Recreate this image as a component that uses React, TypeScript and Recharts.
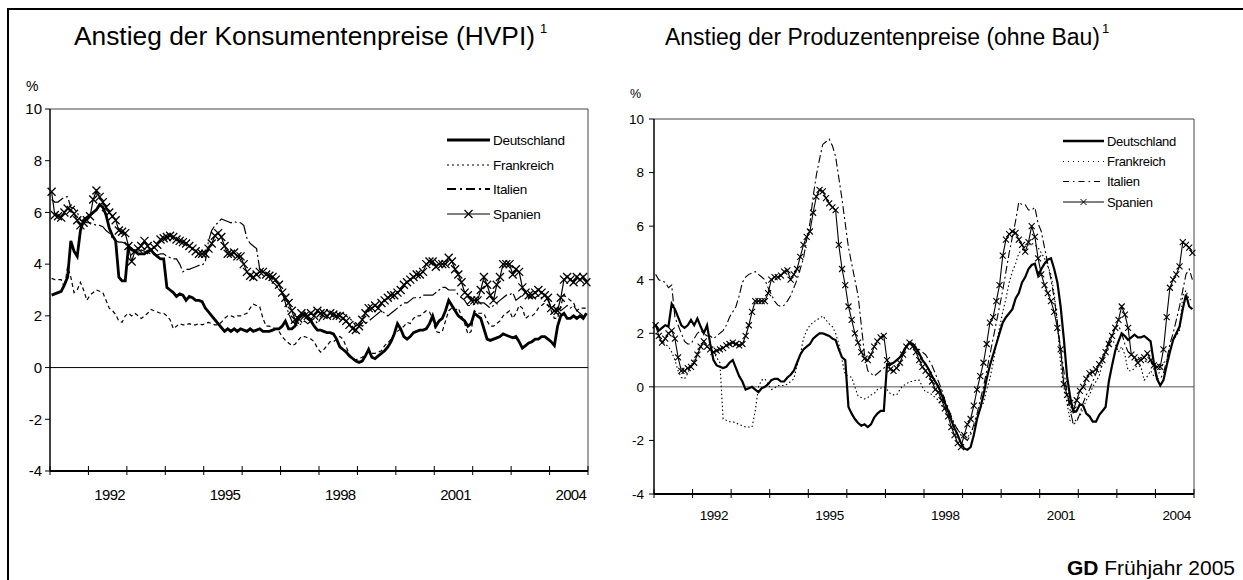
import React from 'react'
import { LineChart, Line, XAxis, YAxis, ReferenceLine } from 'recharts'

// Monatswerte Jan 1991 bis Dez 2004, Veränderung gegenüber Vorjahresmonat in %
const START_YEAR = 1991
const yearLabels = ['1992', '1995', '1998', '2001', '2004']
const yTicks = [-4, -2, 0, 2, 4, 6, 8, 10]
const countries = ['Deutschland', 'Frankreich', 'Italien', 'Spanien']

// Konsumentenpreise (HVPI)
const hvpiDeutschland = [
  2.8, 2.85, 2.9, 2.95, 3.2, 3.5, 4.9, 4.5, 4.3, 5.3, 5.7, 5.8,
  5.9, 6.0, 6.1, 6.3, 6.2, 5.9, 5.4, 5.1, 4.9, 3.5, 3.35, 3.35,
  4.7, 4.55, 4.5, 4.4, 4.4, 4.4, 4.5, 4.55, 4.4, 4.3, 4.2, 4.2,
  3.1, 3.0, 2.9, 2.75, 2.85, 2.8, 2.6, 2.75, 2.7, 2.6, 2.6, 2.55,
  2.3, 2.15, 2.0, 1.85, 1.7, 1.55, 1.4, 1.5, 1.4, 1.5, 1.4, 1.5,
  1.45, 1.4, 1.5, 1.4, 1.45, 1.5, 1.4, 1.4, 1.4, 1.45, 1.5, 1.5,
  1.6, 1.8, 1.5, 1.5, 1.6, 1.9, 2.0, 2.1, 1.9, 1.8, 1.6, 1.45,
  1.45, 1.4, 1.35, 1.35, 1.3, 1.1, 0.8, 0.7, 0.6, 0.45, 0.35, 0.25,
  0.2, 0.25, 0.45, 0.7, 0.4, 0.35, 0.45, 0.55, 0.65, 0.8, 1.0, 1.3,
  1.7, 1.5, 1.2, 1.1, 1.2, 1.35, 1.4, 1.45, 1.45, 1.5, 1.7, 2.0,
  1.6, 1.8, 1.9, 2.2, 2.6, 2.4, 2.2, 2.0, 1.9, 1.8, 1.6, 1.7,
  2.1, 2.0, 1.9, 1.5, 1.1, 1.05, 1.1, 1.15, 1.2, 1.3, 1.25, 1.2,
  1.15, 1.2, 1.0, 0.75, 0.85, 0.95, 1.0, 1.1, 1.1, 1.2, 1.2, 1.1,
  1.0, 0.85, 1.6, 2.0, 2.1, 1.9, 1.9, 2.0, 1.9, 2.0, 1.9, 2.1,
]
const hvpiFrankreich = [
  3.45, 3.4, 3.4, 3.4, 3.1, 3.9, 3.5, 2.9, 3.0, 3.3, 3.0, 2.6,
  2.8, 2.9, 3.0, 2.95, 2.9, 2.6, 2.3, 2.2, 2.05, 1.8, 1.75, 2.0,
  2.1, 2.0, 2.1, 2.0, 1.9, 2.0, 2.1, 2.25, 2.2, 2.15, 2.1, 2.1,
  2.0, 1.85, 1.5, 1.6, 1.7, 1.65, 1.65, 1.7, 1.65, 1.65, 1.7, 1.65,
  1.7, 1.75, 1.7, 1.65, 1.65, 1.75, 1.9, 2.0, 2.0, 1.95, 2.0, 2.0,
  2.05, 2.1, 2.3, 2.45, 2.4, 2.35, 1.9, 1.6, 1.6, 1.55, 1.5, 1.4,
  1.2, 1.05, 0.95, 0.85, 0.9, 1.05, 1.2, 1.2, 1.15, 1.1, 1.0, 0.75,
  0.6, 0.7, 0.85, 1.0, 1.0, 1.1, 1.2, 1.1, 0.8, 0.5, 0.35, 0.3,
  0.35, 0.4, 0.5, 0.6, 0.55, 0.55, 0.6, 0.65, 0.85, 0.95, 1.1, 1.3,
  1.4, 1.5, 1.6, 1.75, 1.7, 1.9, 2.0, 2.0, 2.1, 2.2, 2.15, 1.9,
  1.4, 1.35, 1.4, 1.8, 2.2, 2.3, 2.2, 2.3, 2.0, 1.7, 1.3, 1.4,
  2.2, 2.1, 2.1, 2.1, 1.8, 1.6, 1.6, 1.7, 1.8, 2.0, 2.1, 2.2,
  1.9, 2.1, 2.4, 2.3, 1.9, 2.0, 2.0, 2.1, 2.3, 2.4, 2.5, 2.4,
  2.2, 1.9, 1.9, 2.4, 2.8, 2.7, 2.6, 2.5, 2.2, 2.3, 2.3, 2.3,
]
const hvpiItalien = [
  6.5, 6.4, 6.4, 6.5, 6.6, 6.6, 6.2, 6.15, 6.0, 5.7, 5.65, 5.6,
  5.6, 5.55, 5.5, 5.5, 5.45, 5.3, 5.2, 5.0, 4.9, 4.85, 4.85, 4.8,
  4.6, 4.55, 4.55, 4.5, 4.55, 4.5, 4.45, 4.4, 4.4, 4.35, 4.4, 4.4,
  4.3, 4.25, 4.2, 4.2, 4.0, 3.7, 3.8, 3.8, 3.85, 3.9, 3.95, 3.95,
  4.1, 4.9, 5.3, 5.5, 5.6, 5.75, 5.7, 5.65, 5.6, 5.65, 5.6, 5.6,
  5.5, 5.0, 4.8, 4.7, 4.6, 3.8, 3.7, 3.65, 3.5, 3.3, 3.2, 3.0,
  2.9, 2.5, 2.1, 1.8, 1.7, 1.6, 1.7, 1.8, 1.7, 1.8, 1.9, 1.7,
  1.9, 2.0, 1.9, 2.0, 2.0, 2.0, 2.1, 2.1, 2.0, 1.9, 1.8, 1.6,
  1.7, 1.6, 1.7, 1.8, 1.9, 2.0, 2.1, 2.2, 2.1, 2.0, 2.1, 2.2,
  2.3, 2.4, 2.5, 2.5, 2.6, 2.7, 2.7, 2.7, 2.8, 2.8, 2.8, 2.8,
  2.9, 3.0, 3.1, 3.1, 3.0, 3.0, 3.0, 2.8, 2.7, 2.6, 2.4, 2.4,
  2.45, 2.5, 2.5, 2.5, 2.4, 2.3, 2.4, 2.5, 2.6, 2.7, 2.8, 2.8,
  2.9, 2.6, 2.7, 2.8, 2.9, 2.7, 2.7, 2.7, 2.8, 2.7, 2.8, 2.6,
  2.3, 2.4, 2.3, 2.2, 2.3, 2.4, 2.3, 2.4, 2.2, 2.1, 2.0, 2.1,
]
const hvpiSpanien = [
  6.8, 5.9, 5.85, 5.8, 6.0, 6.15, 6.1, 5.95, 5.7, 5.5, 5.6, 5.7,
  5.85, 6.5, 6.85, 6.6, 6.4, 6.2, 6.0, 5.85, 5.7, 5.3, 5.25, 5.2,
  4.7, 4.1, 4.5, 4.6, 4.7, 4.9, 4.7, 4.55, 4.65, 4.75, 4.95, 5.0,
  5.05, 5.1, 5.05, 4.95, 4.9, 4.85, 4.8, 4.7, 4.6, 4.5, 4.4, 4.4,
  4.4, 4.6, 4.8, 5.1, 5.2, 5.05, 4.7, 4.4, 4.4, 4.45, 4.3, 4.3,
  4.0, 3.7, 3.55, 3.5, 3.6, 3.7, 3.7, 3.6, 3.55, 3.5, 3.4, 3.2,
  2.9, 2.7, 2.5, 2.2, 1.85, 1.9, 2.1, 2.0, 2.0, 2.1, 2.0, 2.2,
  2.1, 2.1, 2.0, 2.1, 2.05, 2.0, 2.0, 1.9, 1.8, 1.65, 1.5, 1.45,
  1.6, 1.85, 2.1, 2.3, 2.3, 2.4, 2.3, 2.5, 2.6, 2.7, 2.8, 2.8,
  2.9, 3.0, 3.2, 3.3, 3.4, 3.5, 3.6, 3.6, 3.7, 4.0, 4.1, 4.1,
  3.9, 4.0, 4.0, 4.0, 4.25, 4.1, 3.8, 3.6, 3.3, 2.9, 2.8, 2.6,
  2.6, 2.6, 3.0, 3.5, 3.2, 2.8, 2.6, 3.2, 3.5, 4.0, 4.0, 4.0,
  3.6, 3.8, 3.7, 3.1, 2.9, 2.8, 2.8, 2.9, 3.0, 2.9, 2.8, 2.7,
  2.3, 2.2, 2.2, 2.7, 3.4, 3.5, 3.4, 3.3, 3.5, 3.4, 3.5, 3.3,
]

// Produzentenpreise (ohne Bau)
const ppiDeutschland = [
  2.3, 2.1, 2.2, 2.3, 2.25, 3.1, 2.9, 2.6, 2.3, 2.2, 2.3, 2.5,
  2.3, 2.55, 2.25, 2.0, 2.3, 1.6, 1.0, 0.8, 0.75, 0.7, 0.75, 0.9,
  1.0, 0.7, 0.4, 0.2, -0.1, -0.05, 0.0, -0.1, -0.2, -0.05, 0.0, 0.1,
  0.25, 0.3, 0.3, 0.2, 0.2, 0.35, 0.45, 0.6, 0.9, 1.2, 1.4, 1.5,
  1.6, 1.8, 1.9, 2.0, 2.0, 1.95, 1.9, 1.8, 1.75, 1.4, 1.1, 1.0,
  -0.75, -1.0, -1.2, -1.35, -1.45, -1.4, -1.5, -1.4, -1.15, -1.0, -0.9, -0.9,
  0.85, 0.85, 0.9, 1.0, 1.1, 1.3, 1.5, 1.65, 1.6, 1.45, 1.25, 1.0,
  0.85, 0.65, 0.4, 0.2, 0.0, -0.3, -0.6, -0.9, -1.25, -1.55, -1.8, -2.1,
  -2.3, -2.35, -2.25, -1.8, -1.2, -0.8, -0.3, 0.3, 0.8, 1.2, 1.6, 2.0,
  2.4, 2.6, 2.75, 2.9, 3.3, 3.5, 3.9, 4.1, 4.4, 4.55, 4.6, 4.15,
  4.4, 4.6, 4.75, 4.8, 4.4, 3.9, 3.0, 1.8, 0.4, -0.4, -0.95, -0.9,
  -0.65, -0.7, -1.0, -1.1, -1.3, -1.3, -1.05, -0.9, -0.75, 0.2, 0.8, 1.35,
  1.7, 2.0, 1.9, 1.75, 1.85, 1.95, 1.85, 1.85, 1.9, 1.8, 1.7, 0.9,
  0.3, 0.05, 0.25, 0.8, 1.3, 1.75, 2.0, 2.25, 2.9, 3.45, 3.0, 2.9,
]
const ppiFrankreich = [
  2.0, 1.8, 1.7, 1.6, 1.5, 1.3, 1.0, 0.6, 0.35, 0.3, 0.5, 0.8,
  1.0, 1.3, 1.5, 1.6, 1.5, 1.4, 1.3, 1.1, 0.9, -1.2, -1.25, -1.3,
  -1.3, -1.35, -1.4, -1.45, -1.5, -1.5, -1.5, -0.9, 0.0, 0.25, 0.3, 0.1,
  -0.1, -0.05, 0.05, 0.05, 0.05, 0.1, 0.2, 0.3, 0.8, 1.2, 1.8, 2.1,
  2.3, 2.4, 2.5, 2.55, 2.65, 2.5, 2.35, 2.25, 2.0, 1.6, 1.0, 0.45,
  0.4, 0.35, 0.0, -0.35, -0.4, -0.45, -0.4, -0.3, -0.25, -0.1, -0.05, 0.0,
  -0.1, -0.25, -0.3, -0.3, -0.1, 0.05, 0.1, 0.2, 0.2, 0.25, 0.25, 0.0,
  -0.2, -0.2, -0.3, -0.4, -0.5, -0.7, -0.9, -1.0, -1.15, -1.4, -1.6, -1.75,
  -1.85, -1.9, -1.7, -1.5, -1.2, -0.8, -0.6, -0.1, 0.3, 0.9, 1.6, 2.2,
  2.8, 3.3, 3.9, 4.3, 4.6, 5.0, 5.1, 5.25, 5.3, 5.35, 5.3, 5.2,
  5.0, 4.8, 4.5, 4.2, 3.5, 2.4, 0.8, 0.0, -0.6, -1.3, -1.35, -1.2,
  -1.1, -0.8, -0.5, -0.3, 0.0, 0.2, 0.4, 0.9, 1.25, 1.5, 1.75, 1.6,
  1.3, 1.5, 1.2, 0.6, 0.6, 0.7, 0.8, 0.75, 0.25, 0.4, 0.6, 0.4,
  0.4, 0.6, 0.9, 1.0, 1.4, 1.75, 1.9, 2.1, 3.4, 3.6, 3.25, 3.25,
]
const ppiItalien = [
  4.2, 4.0, 3.95, 3.9, 3.7, 3.8, 2.6, 2.3, 2.0, 1.7, 1.6, 1.6,
  1.8, 2.0, 2.1, 2.0, 1.9, 1.9, 1.8, 1.9, 2.0, 2.1, 2.3, 2.6,
  2.8, 3.0, 3.4, 3.9, 4.1, 4.2, 4.25, 4.3, 4.2, 4.1, 4.0, 3.7,
  3.45, 3.2, 3.05, 3.0, 3.05, 3.2, 3.4, 3.7, 4.0, 4.4, 4.8, 5.5,
  6.1, 7.1, 7.9, 8.5, 9.05, 9.15, 9.25, 9.0, 8.6, 7.8, 7.0, 6.1,
  5.2, 4.6, 4.0, 3.4, 2.3, 1.2, 0.6, 0.5, 0.4, 0.5, 0.6, 0.7,
  0.8, 0.8, 0.9, 1.0, 1.1, 1.3, 1.5, 1.6, 1.6, 1.5, 1.4, 1.3,
  1.2, 1.0, 0.8, 0.5, 0.2, -0.1, -0.5, -0.8, -1.1, -1.4, -1.6, -1.8,
  -1.9, -2.0, -1.8, -1.4, -1.0, -0.5, 0.0, 0.6, 1.2, 1.8, 2.4, 3.0,
  3.6, 4.3, 5.0, 5.6, 6.2, 6.9, 6.8, 6.8, 6.6, 6.6, 6.7, 6.1,
  5.8, 5.2, 4.6, 4.0, 3.3, 2.4, 1.4, 0.6, -0.2, -0.9, -1.4, -1.3,
  -1.0, -0.6, -0.3, -0.1, 0.2, 0.5, 0.8, 1.1, 1.4, 1.7, 2.0, 2.2,
  2.3, 2.0, 1.6, 1.3, 1.2, 1.1, 1.0, 1.1, 1.0, 0.9, 1.0, 0.7,
  0.3, 0.3, 0.5, 1.0, 1.6, 2.0, 2.5, 3.0, 3.6, 4.2, 4.4, 4.0,
]
const ppiSpanien = [
  2.3, 1.9, 1.65, 1.8, 2.0, 2.1, 1.8, 1.1, 0.6, 0.6, 0.7, 0.75,
  0.9, 1.2, 1.5, 1.7, 1.5, 1.4, 1.3, 1.35, 1.4, 1.45, 1.55, 1.6,
  1.65, 1.6, 1.55, 1.6, 1.9, 2.3, 2.8, 3.2, 3.2, 3.2, 3.2, 3.5,
  4.0, 4.1, 4.1, 4.15, 4.3, 4.35, 4.0, 4.2, 4.4, 4.85, 5.3, 5.6,
  5.8, 6.5, 7.1, 7.35, 7.3, 7.05, 6.85, 6.7, 6.6, 5.3, 4.4, 3.8,
  3.0, 2.5, 2.0, 1.65, 1.3, 1.05, 1.0, 1.2, 1.5, 1.7, 1.85, 1.9,
  1.0, 0.65, 0.6, 0.7, 0.9, 1.2, 1.5, 1.65, 1.5, 1.3, 1.0, 0.75,
  0.6, 0.45, 0.2, -0.1, -0.2, -0.5, -0.8, -1.1, -1.5, -1.8, -2.1, -2.25,
  -1.8, -1.4, -1.2, -0.7, -0.1, 0.4, 0.9, 1.6, 2.4, 2.6, 3.2, 3.8,
  4.9, 5.5, 5.7, 5.8, 5.75, 5.5, 5.3, 5.05, 5.4, 6.0, 5.6, 4.8,
  4.2, 3.8, 3.5, 3.2, 2.8, 2.2, 1.4, 0.1, -0.3, -0.6, -0.85, -0.5,
  -0.15, 0.0, 0.3, 0.5, 0.55, 0.65, 0.85, 1.0, 1.3, 1.6, 1.9, 2.2,
  2.5, 3.0, 2.7, 2.2, 1.2, 1.1, 0.9, 1.0, 1.1, 1.25, 1.0, 0.8,
  0.75, 0.75, 1.4, 2.6, 3.7, 4.0, 4.2, 4.5, 5.4, 5.3, 5.2, 5.0,
]

const FONT = 'Arial, "Liberation Sans", Helvetica, sans-serif'
const seriesKeys = ['de', 'fr', 'it', 'es']
const xTicks = Array.from({ length: 29 }, (_, i) => i * 6)

type LineStyle = { width: number; dash?: string; cross?: number; crossWidth?: number }

const buildRows = (series: number[][]) =>
  series[0].map((_, i) => ({
    m: i + 0.5,
    de: series[0][i],
    fr: series[1][i],
    it: series[2][i],
    es: series[3][i],
  }))

const crossPath = (cx: number, cy: number, s: number) =>
  `M${cx - s},${cy - s}L${cx + s},${cy + s}M${cx - s},${cy + s}L${cx + s},${cy - s}`

const crossDot = (size: number, w: number) => (props: any) => {
  const { cx, cy, index } = props
  if (cx == null || cy == null) return <g key={`x-${index}`} />
  return <path key={`x-${index}`} d={crossPath(cx, cy, size)} stroke="#000" strokeWidth={w} fill="none" />
}

const YearTick = (props: any) => {
  const { x, y, payload, fontSize, labelDy, spacing } = props
  const v = payload.value
  const label = yearLabels.find((yr) => (Number(yr) - START_YEAR) * 12 + 6 === v)
  return (
    <g>
      {v % 12 === 0 && <line x1={x} x2={x} y1={y - 5} y2={y + 4} stroke="#000" strokeWidth={1} />}
      {label && (
        <text x={x + 2} y={y + labelDy} textAnchor="middle" fontSize={fontSize} fill="#000" fontFamily={FONT} letterSpacing={spacing}>
          {label}
        </text>
      )}
    </g>
  )
}

interface PanelProps {
  left: number
  width: number
  height: number
  margin: { top: number; right: number; bottom: number; left: number }
  yAxisWidth: number
  yTickMargin: number
  yFont: number
  xFont: number
  xSpacing: number
  xLabelDy: number
  series: number[][]
  styles: LineStyle[]
  zeroColor: string
}

function Panel(p: PanelProps) {
  const rows = buildRows(p.series)
  return (
    <div style={{ position: 'absolute', left: p.left, top: 0, width: p.width, height: p.height }}>
      <LineChart width={p.width} height={p.height} data={rows} margin={p.margin}>
        <XAxis
          type="number"
          dataKey="m"
          domain={[0, 168]}
          ticks={xTicks}
          interval={0}
          height={30}
          tickLine={false}
          tickSize={0}
          tickMargin={0}
          axisLine={{ stroke: '#000', strokeWidth: 2 }}
          tick={<YearTick fontSize={p.xFont} labelDy={p.xLabelDy} spacing={p.xSpacing} />}
        />
        <YAxis
          domain={[-4, 10]}
          ticks={yTicks}
          interval={0}
          width={p.yAxisWidth}
          tickSize={5}
          tickMargin={p.yTickMargin}
          axisLine={{ stroke: '#000', strokeWidth: 1.5 }}
          tickLine={{ stroke: '#000' }}
          tick={{ fontSize: p.yFont, fill: '#000', fontFamily: FONT }}
        />
        <ReferenceLine y={10} stroke="#444" strokeWidth={1} />
        <ReferenceLine x={168} stroke="#444" strokeWidth={1} />
        <ReferenceLine y={0} stroke={p.zeroColor} strokeWidth={1} />
        {seriesKeys.map((k, i) => {
          const st = p.styles[i]
          return (
            <Line
              key={k}
              type="linear"
              dataKey={k}
              name={countries[i]}
              stroke="#000"
              strokeWidth={st.width}
              strokeDasharray={st.dash}
              dot={st.cross ? crossDot(st.cross, st.crossWidth ?? 1) : false}
              activeDot={false}
              isAnimationActive={false}
            />
          )
        })}
      </LineChart>
    </div>
  )
}

const leftStyles: LineStyle[] = [
  { width: 2.8 },
  { width: 1.2, dash: '4 3' },
  { width: 1.2, dash: '14 3 2 3' },
  { width: 1.2, cross: 4, crossWidth: 1.3 },
]
const rightStyles: LineStyle[] = [
  { width: 2.2 },
  { width: 1.1, dash: '1.5 2.5' },
  { width: 1.1, dash: '8 3 2 3' },
  { width: 1.1, cross: 3, crossWidth: 1.1 },
]
const leftLegendStyles: LineStyle[] = [
  { width: 3 },
  { width: 1.2, dash: '2 3' },
  { width: 2, dash: '9 4 2 4' },
  { width: 1, cross: 4, crossWidth: 1.2 },
]
const rightLegendStyles: LineStyle[] = [
  { width: 2.5 },
  { width: 1, dash: '1 4' },
  { width: 1.2, dash: '6 4 1.5 4' },
  { width: 1, cross: 3, crossWidth: 1 },
]

function LegendBox({ x1, x2, rows, font, styles }: { x1: number; x2: number; rows: number[]; font: number; styles: LineStyle[] }) {
  return (
    <g>
      {countries.map((name, i) => {
        const st = styles[i]
        const cy = rows[i]
        return (
          <g key={name}>
            <line x1={x1} x2={x2} y1={cy} y2={cy} stroke="#000" strokeWidth={st.width} strokeDasharray={st.dash} />
            {st.cross && <path d={crossPath((x1 + x2) / 2, cy, st.cross)} stroke="#000" strokeWidth={st.crossWidth ?? 1} fill="none" />}
            <text x={x2 + 3} y={cy} dy="0.35em" fontSize={font} fill="#000" letterSpacing={-0.3}>
              {name}
            </text>
          </g>
        )
      })}
    </g>
  )
}

export default function App() {
  return (
    <div
      style={{
        position: 'absolute',
        left: 0,
        top: 0,
        width: 1243,
        height: 580,
        overflow: 'hidden',
        background: '#fff',
        fontFamily: FONT,
      }}
    >
      <Panel
        left={0}
        width={620}
        height={520}
        margin={{ top: 109, right: 32, bottom: 19, left: 10 }}
        yAxisWidth={40}
        yTickMargin={3}
        yFont={15}
        xFont={15}
        xSpacing={-0.7}
        xLabelDy={29}
        series={[hvpiDeutschland, hvpiFrankreich, hvpiItalien, hvpiSpanien]}
        styles={leftStyles}
        zeroColor="#000"
      />
      <Panel
        left={620}
        width={600}
        height={540}
        margin={{ top: 119, right: 26, bottom: 16, left: 0 }}
        yAxisWidth={34}
        yTickMargin={5}
        yFont={13.5}
        xFont={13.5}
        xSpacing={-0.4}
        xLabelDy={26}
        series={[ppiDeutschland, ppiFrankreich, ppiItalien, ppiSpanien]}
        styles={rightStyles}
        zeroColor="#555"
      />
      <svg
        width={1243}
        height={580}
        style={{ position: 'absolute', left: 0, top: 0, pointerEvents: 'none', fontFamily: FONT }}
      >
        <line x1={8} x2={1243} y1={9} y2={9} stroke="#000" strokeWidth={2} />
        <line x1={8} x2={8} y1={8} y2={580} stroke="#000" strokeWidth={2} />

        <text x={74} y={45} fontSize={25} textLength={461} lengthAdjust="spacingAndGlyphs" fill="#000">
          Anstieg der Konsumentenpreise (HVPI)
        </text>
        <text x={540} y={33} fontSize={13} fill="#000">1</text>
        <text x={26} y={91} fontSize={14} fill="#000">%</text>

        <text x={665} y={45} fontSize={23} textLength={435} lengthAdjust="spacingAndGlyphs" fill="#000">
          Anstieg der Produzentenpreise (ohne Bau)
        </text>
        <text x={1102} y={33} fontSize={13} fill="#000">1</text>
        <text x={630} y={98} fontSize={12.5} fill="#000">%</text>

        <LegendBox x1={447} x2={490} rows={[140, 165, 189, 214]} font={13.5} styles={leftLegendStyles} />
        <LegendBox x1={1063} x2={1104} rows={[141, 161.5, 181.5, 202]} font={13} styles={rightLegendStyles} />

        <text x={1235} y={575} fontSize={21} textAnchor="end" fill="#000">
          <tspan fontWeight="bold">GD</tspan> Frühjahr 2005
        </text>
      </svg>
    </div>
  )
}
